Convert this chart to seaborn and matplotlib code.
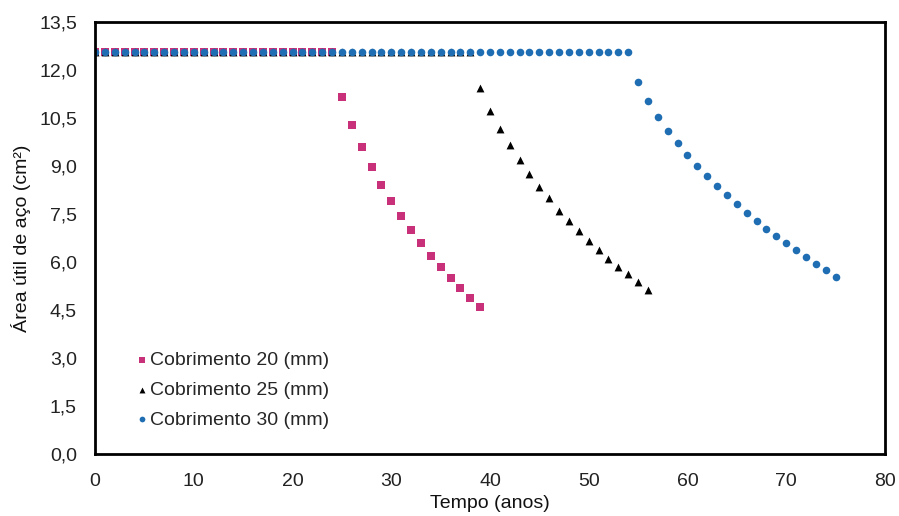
import matplotlib
matplotlib.use("Agg")
import matplotlib.pyplot as plt
import seaborn as sns
import pandas as pd

# Dados (área útil de aço em cm²)
tempo_20 = list(range(0, 40))
area_20 = [12.57] * 25 + [11.17, 10.28, 9.60, 8.98, 8.41, 7.91, 7.44, 7.00,
                          6.58, 6.20, 5.83, 5.49, 5.18, 4.87, 4.58]

tempo_25 = list(range(0, 57))
area_25 = [12.57] * 39 + [11.43, 10.72, 10.16, 9.65, 9.19, 8.74, 8.33, 7.99,
                          7.60, 7.29, 6.98, 6.66, 6.38, 6.10, 5.85, 5.62,
                          5.37, 5.13]

tempo_30 = list(range(0, 76))
area_30 = [12.57] * 55 + [11.63, 11.04, 10.53, 10.10, 9.71, 9.34, 9.00, 8.69,
                          8.38, 8.09, 7.80, 7.52, 7.27, 7.02, 6.80, 6.58,
                          6.37, 6.15, 5.93, 5.74, 5.54]

rotulos = ["Cobrimento 20 (mm)", "Cobrimento 25 (mm)", "Cobrimento 30 (mm)"]
yticks = [0, 1.5, 3.0, 4.5, 6.0, 7.5, 9.0, 10.5, 12.0, 13.5]
xticks = [0, 10, 20, 30, 40, 50, 60, 70, 80]

df20 = pd.DataFrame({'tempo': tempo_20, 'area': area_20})
df25 = pd.DataFrame({'tempo': tempo_25, 'area': area_25})
df30 = pd.DataFrame({'tempo': tempo_30, 'area': area_30})

sns.set_style("white")
plt.rcParams['font.family'] = ['Liberation Sans', 'DejaVu Sans']

fig = plt.figure(figsize=(8.99, 5.16), dpi=100)
ax = fig.add_axes([0.1057, 0.1202, 0.8787, 0.8372])

sns.scatterplot(data=df20, x='tempo', y='area', marker='s', s=26, color='#C8307A',
                linewidth=0, label=rotulos[0], ax=ax)
sns.scatterplot(data=df25, x='tempo', y='area', marker='^', s=32, color='black',
                linewidth=0, label=rotulos[1], ax=ax)
sns.scatterplot(data=df30, x='tempo', y='area', marker='o', s=30, color='#1F6DB2',
                linewidth=0, label=rotulos[2], ax=ax)

fs = 14
ax.set_xlim(0, 80)
ax.set_ylim(0, 13.5)
ax.set_xticks(xticks)
ax.set_yticks(yticks)
ax.set_xticklabels([str(t) for t in xticks], fontsize=fs, color='#222222')
ax.set_yticklabels([f"{t:.1f}".replace('.', ',') for t in yticks], fontsize=fs, color='#222222')
ax.tick_params(axis='x', length=0, pad=14)
ax.tick_params(axis='y', length=0, pad=13)

ax.set_xlabel("Tempo (anos)", fontsize=fs, labelpad=3, color='#111111')
ax.set_ylabel("Área útil de aço (cm²)", fontsize=fs, labelpad=6, color='#111111')

for lado in ax.spines.values():
    lado.set_color('black')
    lado.set_linewidth(2)

ax.legend(loc='upper left', bbox_to_anchor=(0.035, 0.255), frameon=False,
          fontsize=fs, markerscale=0.75, handletextpad=-0.2, labelspacing=0.62,
          handlelength=1.2, borderaxespad=0)

fig.savefig("out.png", dpi=100)
